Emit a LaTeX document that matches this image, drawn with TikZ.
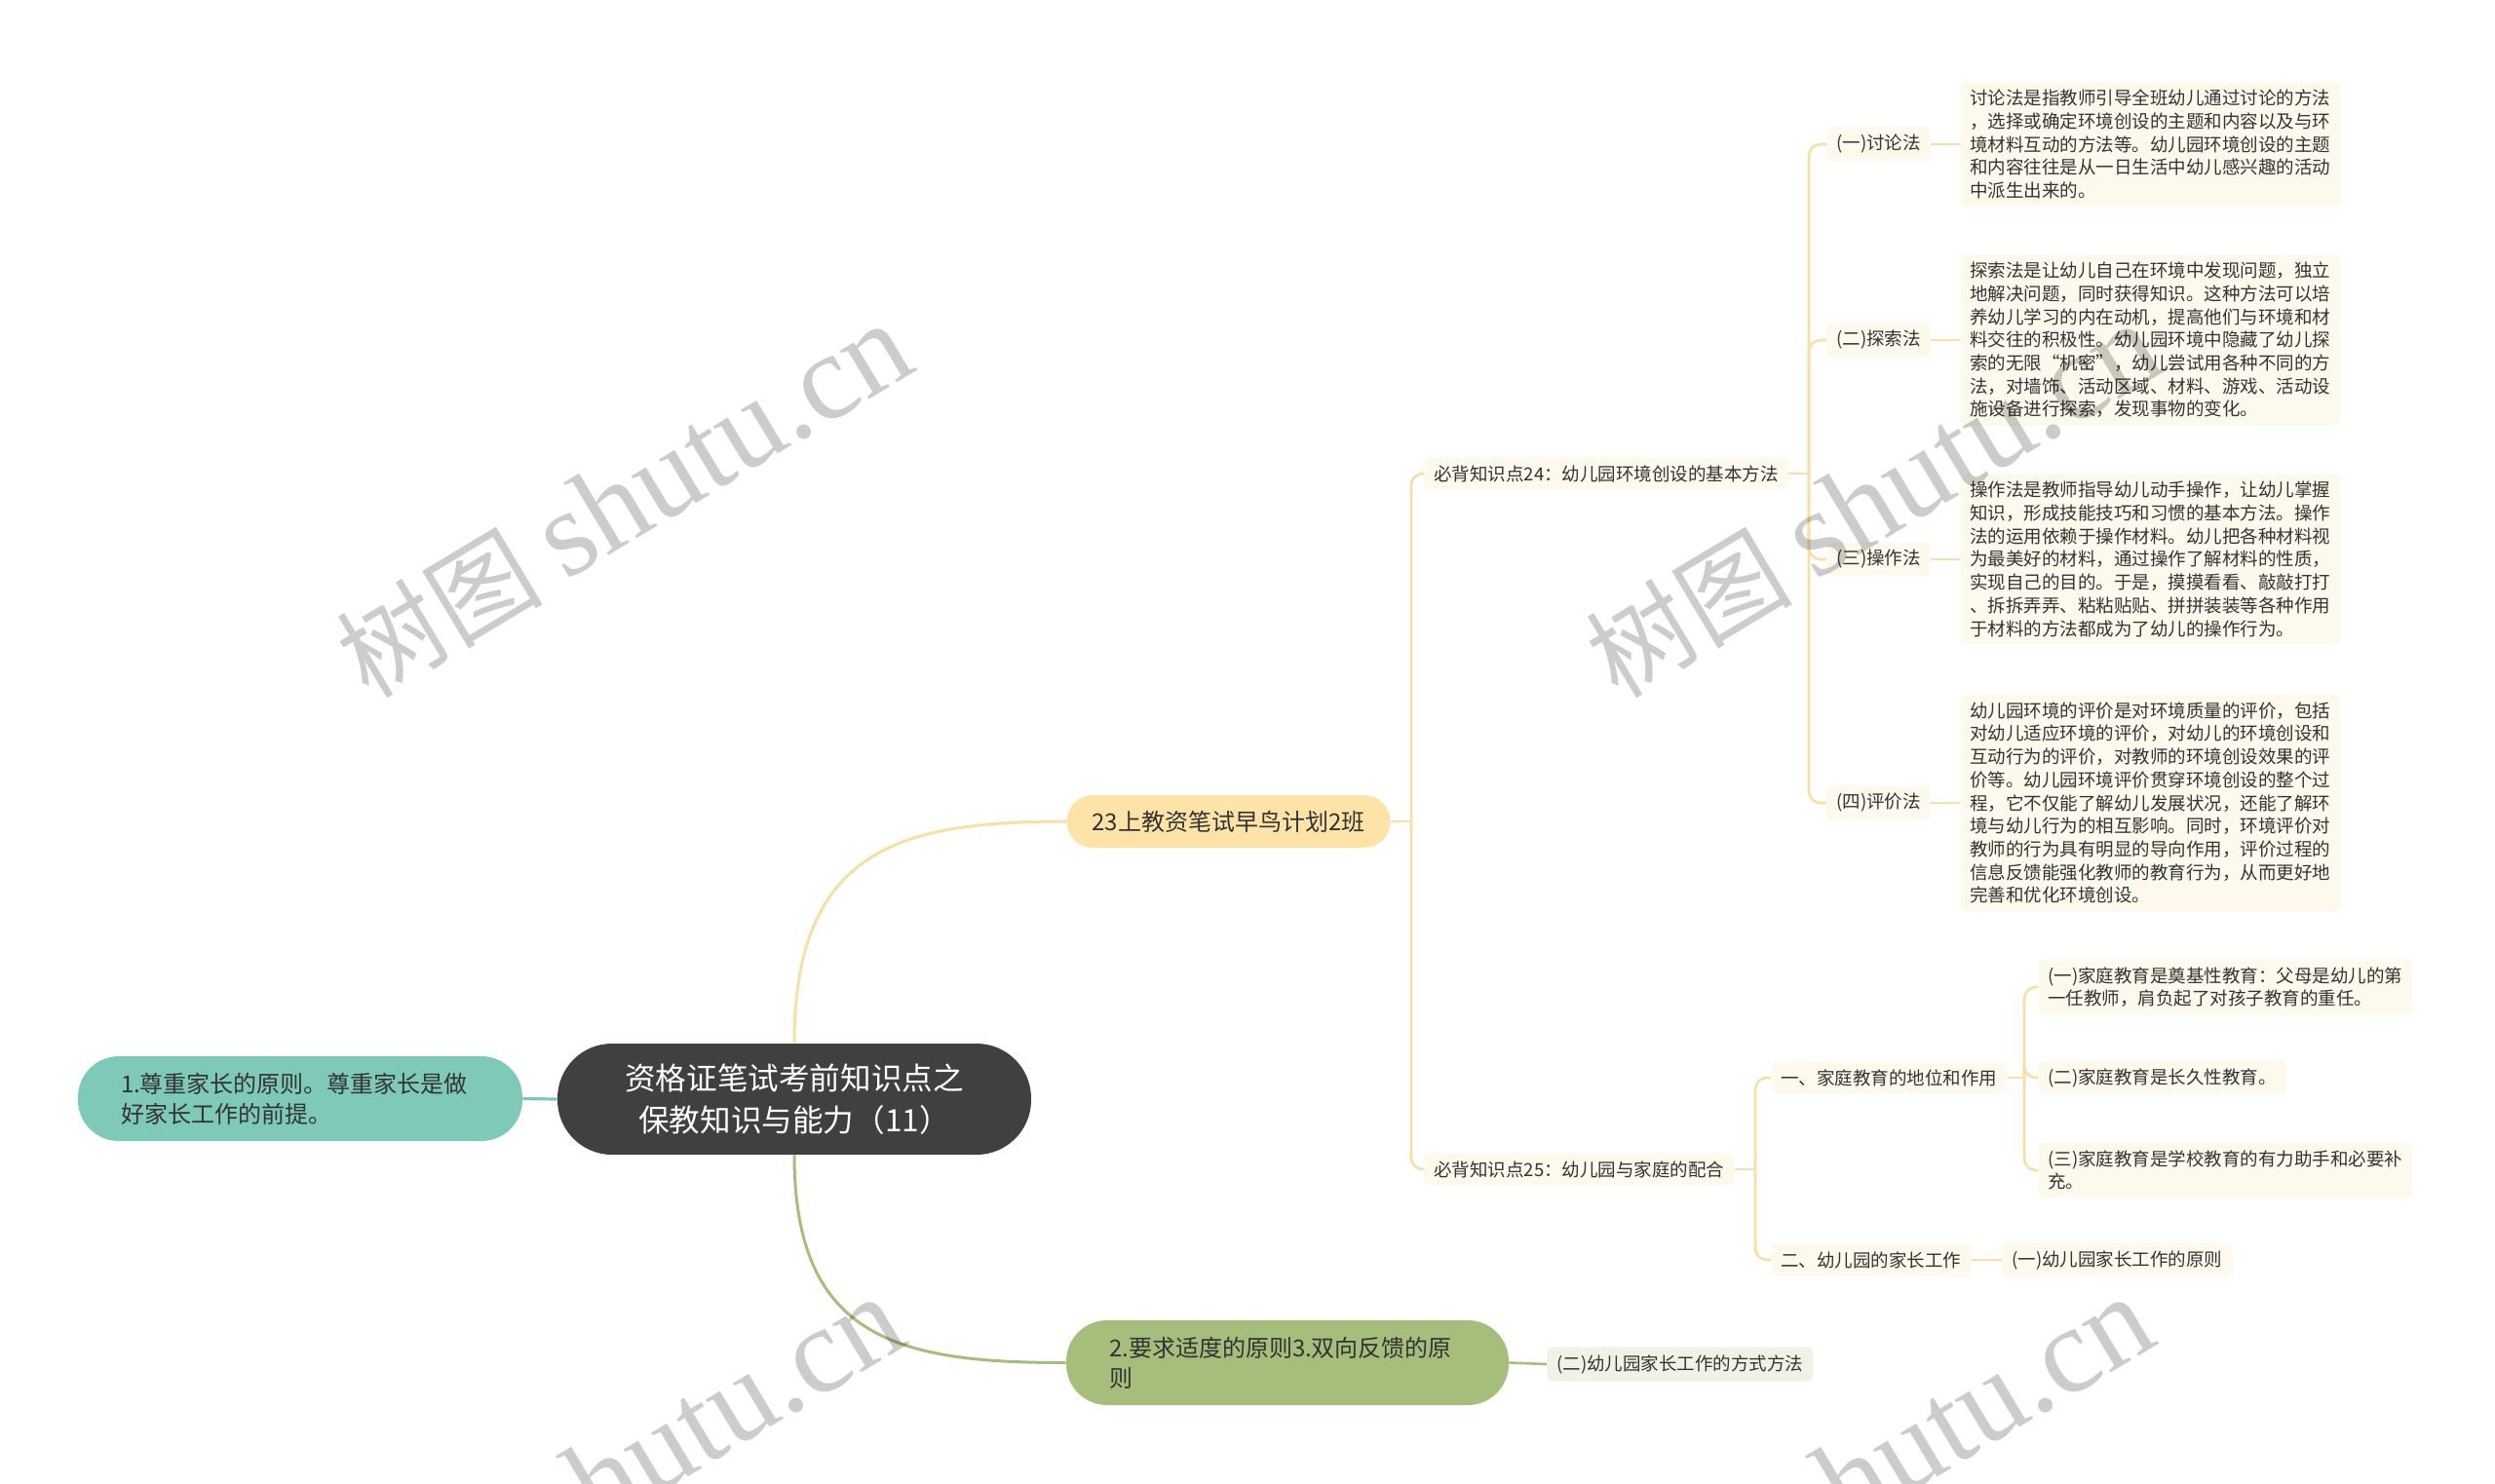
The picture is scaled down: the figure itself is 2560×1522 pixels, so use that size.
\documentclass[tikz,border=0pt]{standalone}
\usepackage{fontspec}
\setmainfont{Noto Sans CJK SC}
\newfontfamily\wmserif{Liberation Serif}
\definecolor{cRoot}{HTML}{404040}
\definecolor{cTeal}{HTML}{7FC9B9}
\definecolor{cGold}{HTML}{FDE3A7}
\definecolor{cGoldLine}{HTML}{F7DFA6}
\definecolor{cGreen}{HTML}{A6BE7B}
\definecolor{cCream}{HTML}{FDF9EC}
\definecolor{cPaleGreen}{HTML}{EFF3E5}
\definecolor{cText}{HTML}{333333}
\newcommand\fsmall{\fontsize{9.25pt}{11.85pt}\selectfont}
\newcommand\fmid{\fontsize{12pt}{15.5pt}\selectfont}
\tikzset{
  lbl/.style={fill=cCream, rounded corners=3pt, inner xsep=5pt, inner ysep=4pt,
    font=\fsmall, text=cText, align=left, anchor=west},
  rootn/.style={fill=cRoot, text=white, rounded corners=28pt, minimum width=243pt,
    minimum height=57pt, align=center, inner sep=0pt,
    font=\fontsize{15.8pt}{21.2pt}\selectfont},
  pilln/.style={rounded corners=21pt, minimum height=43.5pt, inner xsep=22pt,
    inner ysep=0pt, text width=184pt, align=left, font=\fmid, text=cText},
  yline/.style={draw=cGoldLine, line width=1.3pt, rounded corners=6pt},
  gline/.style={draw=cGreen, line width=1.3pt},
  tline/.style={draw=cTeal, line width=1.6pt},
  wm/.style={font=\fontsize{53pt}{60pt}\selectfont, text=black, text opacity=0.2,
    rotate=31, inner sep=0pt},
}
\newcommand\wmtext{树图 {\fontsize{63pt}{64pt}\selectfont\wmserif shutu.cn}}
\begin{document}
\begin{tikzpicture}[x=0.5pt,y=-0.5pt]
\useasboundingbox (0,0) rectangle (2560,1522);
\fill[white] (0,0) rectangle (2560,1522);

% main nodes
\node[rootn] (root) at (815,1128) {资格证笔试考前知识点之\\保教知识与能力（11）};
\node[pilln, fill=cTeal] (l1) at (308,1127.5) {1.尊重家长的原则。尊重家长是做\\好家长工作的前提。};
\node[fill=cGold, rounded corners=13.5pt, minimum height=27pt, inner xsep=13pt,
  inner ysep=0pt, font=\fmid, text=cText] (b1) at (1260.5,843) {23上教资笔试早鸟计划2班};
\node[pilln, fill=cGreen, text width=183pt] (b2) at (1321,1398.5) {2.要求适度的原则3.双向反馈的原\\则};
\node[lbl, fill=cPaleGreen] (b2c) at (1587,1400) {(二)幼儿园家长工作的方式方法};

% level 2
\node[lbl] (A) at (1461,486) {必背知识点24：幼儿园环境创设的基本方法};
\node[lbl] (B) at (1461,1200) {必背知识点25：幼儿园与家庭的配合};

% A children
\node[lbl] (a1) at (1874,148) {(一)讨论法};
\node[lbl] (a2) at (1874,349) {(二)探索法};
\node[lbl] (a3) at (1874,574) {(三)操作法};
\node[lbl] (a4) at (1874,824) {(四)评价法};

\node[lbl] (t1) at (2011,148) {讨论法是指教师引导全班幼儿通过讨论的方法\\，选择或确定环境创设的主题和内容以及与环\\境材料互动的方法等。幼儿园环境创设的主题\\和内容往往是从一日生活中幼儿感兴趣的活动\\中派生出来的。};
\node[lbl] (t2) at (2011,349) {探索法是让幼儿自己在环境中发现问题，独立\\地解决问题，同时获得知识。这种方法可以培\\养幼儿学习的内在动机，提高他们与环境和材\\料交往的积极性。幼儿园环境中隐藏了幼儿探\\索的无限“机密”，幼儿尝试用各种不同的方\\法，对墙饰、活动区域、材料、游戏、活动设\\施设备进行探索，发现事物的变化。};
\node[lbl] (t3) at (2011,574) {操作法是教师指导幼儿动手操作，让幼儿掌握\\知识，形成技能技巧和习惯的基本方法。操作\\法的运用依赖于操作材料。幼儿把各种材料视\\为最美好的材料，通过操作了解材料的性质，\\实现自己的目的。于是，摸摸看看、敲敲打打\\、拆拆弄弄、粘粘贴贴、拼拼装装等各种作用\\于材料的方法都成为了幼儿的操作行为。};
\node[lbl] (t4) at (2011,824) {幼儿园环境的评价是对环境质量的评价，包括\\对幼儿适应环境的评价，对幼儿的环境创设和\\互动行为的评价，对教师的环境创设效果的评\\价等。幼儿园环境评价贯穿环境创设的整个过\\程，它不仅能了解幼儿发展状况，还能了解环\\境与幼儿行为的相互影响。同时，环境评价对\\教师的行为具有明显的导向作用，评价过程的\\信息反馈能强化教师的教育行为，从而更好地\\完善和优化环境创设。};

% B children
\node[lbl] (c1) at (1817,1106) {一、家庭教育的地位和作用};
\node[lbl] (c2) at (1817,1293) {二、幼儿园的家长工作};
\node[lbl] (c21) at (2054,1293) {(一)幼儿园家长工作的原则};
\node[lbl] (d1) at (2091,1013) {(一)家庭教育是奠基性教育：父母是幼儿的第\\一任教师，肩负起了对孩子教育的重任。};
\node[lbl] (d2) at (2091,1106) {(二)家庭教育是长久性教育。};
\node[lbl] (d3) at (2091,1201) {(三)家庭教育是学校教育的有力助手和必要补\\充。};

% junction coordinates
\coordinate (j0) at (1448,843);
\coordinate (jA) at (1856,486);
\coordinate (jB) at (1801,1200);
\coordinate (jC) at (2077,1106);

% connectors
\draw[tline] (l1.east) -- (root.west);
\draw[draw=cGoldLine, line width=1.5pt] (root.north) .. controls +(0,-200) and +(-170,0) .. (b1.west);
\draw[draw=cGreen, line width=1.5pt] (root.south) .. controls +(0,190) and +(-170,0) .. (b2.west);
\draw[gline] (b2.east) -- (b2c.west);

\draw[yline] (b1.east) -- (j0);
\draw[yline] (j0) |- (A.west);
\draw[yline] (j0) |- (B.west);

\draw[yline] (A.east) -- (jA);
\draw[yline] (jA) |- (a1.west);
\draw[yline] (jA) |- (a2.west);
\draw[yline] (jA) |- (a3.west);
\draw[yline] (jA) |- (a4.west);
\draw[yline] (a1.east) -- (t1.west);
\draw[yline] (a2.east) -- (t2.west);
\draw[yline] (a3.east) -- (t3.west);
\draw[yline] (a4.east) -- (t4.west);

\draw[yline] (B.east) -- (jB);
\draw[yline] (jB) |- (c1.west);
\draw[yline] (jB) |- (c2.west);
\draw[yline] (c2.east) -- (c21.west);

\draw[yline] (c1.east) -- (jC);
\draw[yline] (jC) |- (d1.west);
\draw[yline] (jC) |- (d2.west);
\draw[yline] (jC) |- (d3.west);

% watermarks
\begin{scope}
\clip (0,0) rectangle (2560,1522);
\node[wm] (wm1) at (640,514) {\wmtext};
\node[wm] (wm2) at (1922,514) {\wmtext};
\node[wm] (wm3) at (632,1513) {\wmtext};
\node[wm] (wm4) at (1914,1513) {\wmtext};
\end{scope}
\end{tikzpicture}
\end{document}
